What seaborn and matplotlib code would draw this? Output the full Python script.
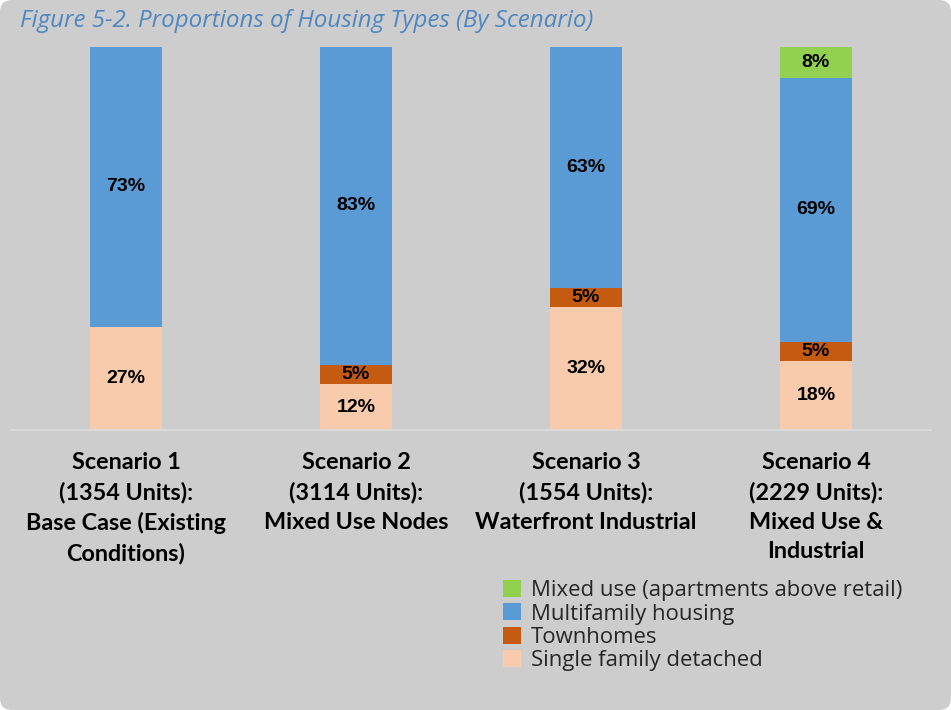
import numpy as np
import pandas as pd
import seaborn as sns
import matplotlib.pyplot as plt
from matplotlib.patches import FancyBboxPatch, Patch
from matplotlib.transforms import IdentityTransform

# datos
escenarios = ["Scenario 1\n(1354 Units):\nBase Case (Existing\nConditions)",
              "Scenario 2\n(3114 Units):\nMixed Use Nodes",
              "Scenario 3\n(1554 Units):\nWaterfront Industrial",
              "Scenario 4\n(2229 Units):\nMixed Use &\nIndustrial"]
single_family = [27, 12, 32, 18]
townhomes = [0, 5, 5, 5]
multifamily = [73, 83, 63, 69]
mixed_use = [0, 0, 0, 8]

series = ["Single family detached", "Townhomes", "Multifamily housing",
          "Mixed use (apartments above retail)"]
colores = ["#F8CBAD", "#C55A11", "#5B9BD5", "#92D050"]
valores = [single_family, townhomes, multifamily, mixed_use]

fondo = "#CDCDCD"

sns.set_theme(style="white")
plt.rcParams['font.family'] = ['Liberation Sans', 'DejaVu Sans']

fig = plt.figure(figsize=(9.51, 7.10), dpi=100, facecolor="white")
fondo_patch = FancyBboxPatch((0, 0), 951, 710, boxstyle="round,pad=0,rounding_size=12",
                             transform=IdentityTransform(), facecolor=fondo,
                             edgecolor="none", zorder=-10)
fig.patches.append(fondo_patch)

ax = fig.add_axes([11 / 951, 1 - 430 / 710, 920 / 951, 383 / 710])
ax.set_facecolor("none")

bottom = np.zeros(len(escenarios))
for nombre, vals, color in zip(series, valores, colores):
    df = pd.DataFrame({"escenario": escenarios, "valor": vals})
    sns.barplot(data=df, x="escenario", y="valor", color=color, width=0.313,
                bottom=bottom.copy(), saturation=1, linewidth=0, ax=ax)
    for i, v in enumerate(vals):
        if v > 0:
            ax.text(i, bottom[i] + v / 2, f"{v}%", ha="center", va="center",
                    fontsize=14, fontweight="bold", color="black")
    bottom += np.array(vals)

ax.set_ylim(0, 100)
ax.set_xlim(-0.5, 3.5)
ax.set_xlabel("")
ax.set_ylabel("")
ax.set_yticks([])
sns.despine(ax=ax, left=True, right=True, top=True)
ax.spines["bottom"].set_color("#DDDDDD")
ax.spines["bottom"].set_linewidth(1.2)
ax.tick_params(axis="x", length=0, pad=16)
for lab in ax.get_xticklabels():
    lab.set_fontfamily(["Lato", "DejaVu Sans"])
    lab.set_fontweight("bold")
    lab.set_fontsize(16.8)
    lab.set_linespacing(1.48)
    lab.set_color("black")

fig.text(20 / 951, 1 - 21 / 710, "Figure 5-2. Proportions of Housing Types (By Scenario)",
         fontsize=17.4, style="italic", color="#4F87C2", va="center", ha="left",
         fontfamily=["Open Sans", "DejaVu Sans"])

handles = [Patch(facecolor=c, edgecolor="none") for c in colores[::-1]]
fig.legend(handles, series[::-1], loc="upper left", bbox_to_anchor=(494 / 951, 1 - 571 / 710),
           frameon=False, handlelength=0.82, handleheight=0.82,
           handletextpad=0.45, labelspacing=0.1, borderaxespad=0,
           prop={"family": ["Open Sans", "DejaVu Sans"], "size": 15.9})

plt.savefig("out.png", dpi=100, facecolor="white")
